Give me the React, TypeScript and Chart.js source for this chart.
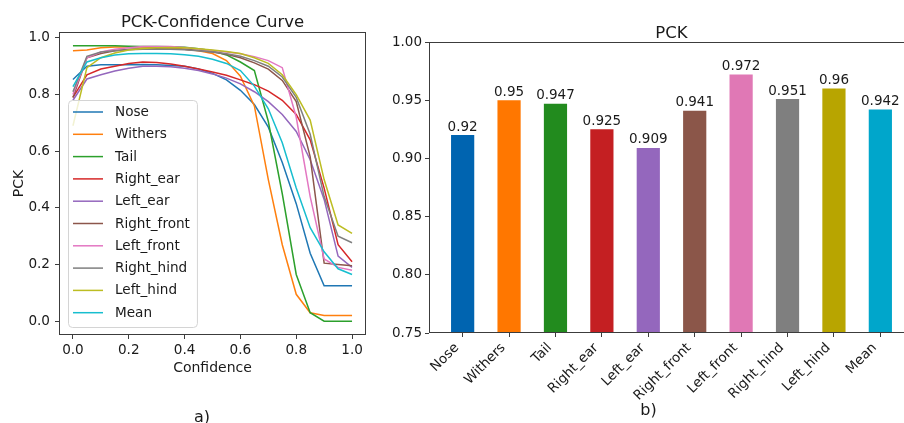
import React, { useEffect, useRef } from "react";
import { Chart, registerables } from "chart.js";

Chart.register(...registerables);

const FONT = '"DejaVu Sans", sans-serif';
const TEXT = "#1a1a1a";
const AXIS = "#3c3c3c";

// ---------- Left panel: PCK-Confidence curve ----------
const confidence = [0, 0.05, 0.1, 0.15, 0.2, 0.25, 0.3, 0.35, 0.4, 0.45, 0.5, 0.55, 0.6, 0.65, 0.7, 0.75, 0.8, 0.85, 0.9, 0.95, 1.0];

const keypoints = ["Nose", "Withers", "Tail", "Right_ear", "Left_ear", "Right_front", "Left_front", "Right_hind", "Left_hind", "Mean"];

const nosePck = [0.853, 0.9, 0.905, 0.905, 0.905, 0.906, 0.905, 0.903, 0.9, 0.89, 0.875, 0.852, 0.815, 0.765, 0.685, 0.56, 0.415, 0.24, 0.125, 0.125, 0.125];
const withersPck = [0.955, 0.957, 0.965, 0.968, 0.968, 0.968, 0.966, 0.964, 0.96, 0.955, 0.945, 0.92, 0.865, 0.76, 0.5, 0.27, 0.095, 0.03, 0.02, 0.02, 0.02];
const tailPck = [0.972, 0.972, 0.972, 0.972, 0.971, 0.97, 0.97, 0.969, 0.967, 0.962, 0.955, 0.94, 0.915, 0.885, 0.705, 0.45, 0.165, 0.03, 0.0, 0.0, 0.0];
const rightEarPck = [0.79, 0.87, 0.89, 0.9, 0.91, 0.915, 0.913, 0.908, 0.9, 0.89, 0.88, 0.868, 0.852, 0.835, 0.812, 0.78, 0.73, 0.64, 0.47, 0.27, 0.21];
const leftEarPck = [0.78, 0.855, 0.87, 0.883, 0.893, 0.9, 0.9, 0.898, 0.893, 0.885, 0.873, 0.858, 0.838, 0.81, 0.775, 0.73, 0.67, 0.57, 0.43, 0.23, 0.19];
const rightFrontPck = [0.79, 0.93, 0.945, 0.955, 0.96, 0.962, 0.962, 0.961, 0.96, 0.956, 0.95, 0.942, 0.93, 0.912, 0.89, 0.85, 0.775, 0.58, 0.205, 0.2, 0.196];
const leftFrontPck = [0.8, 0.93, 0.95, 0.96, 0.965, 0.97, 0.97, 0.97, 0.966, 0.961, 0.956, 0.95, 0.944, 0.934, 0.92, 0.895, 0.72, 0.44, 0.22, 0.19, 0.18];
const rightHindPck = [0.81, 0.935, 0.95, 0.955, 0.958, 0.96, 0.96, 0.96, 0.958, 0.955, 0.95, 0.944, 0.935, 0.92, 0.9, 0.862, 0.79, 0.66, 0.44, 0.3, 0.277];
const leftHindPck = [0.69, 0.895, 0.93, 0.947, 0.957, 0.963, 0.965, 0.966, 0.965, 0.962, 0.957, 0.952, 0.945, 0.93, 0.91, 0.87, 0.8, 0.71, 0.5, 0.34, 0.31];
const meanPck = [0.828, 0.915, 0.93, 0.94, 0.944, 0.945, 0.945, 0.944, 0.941, 0.935, 0.925, 0.91, 0.885, 0.83, 0.75, 0.63, 0.47, 0.33, 0.245, 0.185, 0.165];

const curveSeries = [nosePck, withersPck, tailPck, rightEarPck, leftEarPck, rightFrontPck, leftFrontPck, rightHindPck, leftHindPck, meanPck];
const curveColors = ["#1f77b4", "#ff7f0e", "#2ca02c", "#d62728", "#9467bd", "#8c564b", "#e377c2", "#7f7f7f", "#bcbd22", "#17becf"];
const curveXTicks = [0, 0.2, 0.4, 0.6, 0.8, 1.0];
const curveYTicks = [0, 0.2, 0.4, 0.6, 0.8, 1.0];

// ---------- Right panel: PCK bars ----------
const barCategories = ["Nose", "Withers", "Tail", "Right_ear", "Left_ear", "Right_front", "Left_front", "Right_hind", "Left_hind", "Mean"];
const barPck = [0.92, 0.95, 0.947, 0.925, 0.909, 0.941, 0.972, 0.951, 0.96, 0.942];
const barColors = ["#0064b0", "#ff7700", "#228b1e", "#c41f22", "#9467bd", "#8b5649", "#e078b5", "#7f7f7f", "#b8a500", "#00a6cb"];
const barYTicks = [0.75, 0.8, 0.85, 0.9, 0.95, 1.0];

// ---------- plugins ----------
const framePlugin = {
  id: "frame",
  afterDatasetsDraw(chart: any) {
    const { ctx, chartArea: a } = chart;
    ctx.save();
    ctx.strokeStyle = AXIS;
    ctx.lineWidth = 1;
    const l = Math.round(a.left) + 0.5;
    const t = Math.round(a.top) + 0.5;
    const r = Math.round(a.right) - 0.5;
    const b = Math.round(a.bottom) - 0.5;
    ctx.strokeRect(l, t, r - l, b - t);
    ctx.restore();
  },
};

const legendPlugin = {
  id: "mplLegend",
  afterDatasetsDraw(chart: any) {
    const { ctx, chartArea } = chart;
    const ds = chart.data.datasets;
    const fontSize = 13.6;
    const rowH = 22.3;
    const lineLen = 30;
    ctx.save();
    ctx.font = `${fontSize}px ${FONT}`;
    const textW = Math.max(...ds.map((d: any) => ctx.measureText(d.label).width));
    const boxW = 5 + lineLen + 12 + textW + 7;
    const boxH = rowH * ds.length + 4;
    const x0 = chartArea.left + 9;
    const y0 = chartArea.bottom - 8 - boxH;
    ctx.beginPath();
    ctx.roundRect(x0 + 0.5, y0 + 0.5, boxW, boxH, 4);
    ctx.fillStyle = "rgba(255,255,255,0.8)";
    ctx.fill();
    ctx.strokeStyle = "#d4d4d4";
    ctx.lineWidth = 1;
    ctx.stroke();
    ds.forEach((d: any, i: number) => {
      const y = y0 + 12 + i * rowH;
      ctx.beginPath();
      ctx.moveTo(x0 + 5, y);
      ctx.lineTo(x0 + 5 + lineLen, y);
      ctx.strokeStyle = d.borderColor;
      ctx.lineWidth = 1.5;
      ctx.stroke();
      ctx.fillStyle = TEXT;
      ctx.textAlign = "left";
      ctx.textBaseline = "middle";
      ctx.fillText(d.label, x0 + 5 + lineLen + 12, y + 0.5);
    });
    ctx.restore();
  },
};

const valueLabelPlugin = {
  id: "valueLabels",
  afterDatasetsDraw(chart: any) {
    const { ctx } = chart;
    const meta = chart.getDatasetMeta(0);
    ctx.save();
    ctx.font = `13.5px ${FONT}`;
    ctx.fillStyle = TEXT;
    ctx.textAlign = "center";
    ctx.textBaseline = "alphabetic";
    meta.data.forEach((bar: any, i: number) => {
      ctx.fillText(String(barPck[i]), bar.x, bar.y - 4.5);
    });
    ctx.restore();
  },
};

const captionPlugin = (text: string, x: number, y: number) => ({
  id: "caption",
  afterDraw(chart: any) {
    const { ctx } = chart;
    ctx.save();
    ctx.font = `16px ${FONT}`;
    ctx.fillStyle = TEXT;
    ctx.textAlign = "center";
    ctx.textBaseline = "alphabetic";
    ctx.fillText(text, x, y);
    ctx.restore();
  },
});

const tickFont = { family: FONT, size: 13.6 };

function leftConfig(): any {
  return {
    type: "line",
    data: {
      datasets: keypoints.map((name, i) => ({
        label: name,
        data: confidence.map((c, j) => ({ x: c, y: curveSeries[i][j] })),
        borderColor: curveColors[i],
        backgroundColor: curveColors[i],
        borderWidth: 1.5,
        pointRadius: 0,
        tension: 0,
        fill: false,
        order: keypoints.length - i,
      })),
    },
    options: {
      responsive: false,
      animation: false,
      devicePixelRatio: 1,
      layout: { padding: { left: 0, right: 14, top: 0, bottom: 0 } },
      plugins: {
        legend: { display: false },
        tooltip: { enabled: false },
        title: {
          display: true,
          text: "PCK-Confidence Curve",
          fullSize: false,
          color: TEXT,
          font: { family: FONT, size: 16.5, weight: "normal", lineHeight: 1 },
          padding: { top: 14.5, bottom: 1 },
        },
      },
      scales: {
        x: {
          type: "linear",
          position: "bottom",
          min: -0.05,
          max: 1.05,
          afterBuildTicks: (s: any) => {
            s.ticks = curveXTicks.map((v) => ({ value: v }));
          },
          afterFit: (s: any) => {
            s.height = 88;
          },
          ticks: {
            callback: (v: any) => Number(v).toFixed(1),
            color: TEXT,
            font: tickFont,
            padding: 3,
            maxRotation: 0,
            autoSkip: false,
          },
          grid: { drawOnChartArea: false, drawTicks: true, tickLength: 4, color: AXIS },
          border: { display: false },
          title: {
            display: true,
            text: "Confidence",
            color: TEXT,
            font: { family: FONT, size: 14 },
            padding: { top: 0, bottom: 46.6 },
          },
        },
        y: {
          type: "linear",
          min: -0.0486,
          max: 1.0209,
          afterBuildTicks: (s: any) => {
            s.ticks = curveYTicks.map((v) => ({ value: v }));
          },
          afterFit: (s: any) => {
            s.width = 59;
          },
          ticks: {
            callback: (v: any) => Number(v).toFixed(1),
            color: TEXT,
            font: tickFont,
            padding: 5,
            autoSkip: false,
          },
          grid: { drawOnChartArea: false, drawTicks: true, tickLength: 4, color: AXIS },
          border: { display: false },
          title: {
            display: true,
            text: "PCK",
            color: TEXT,
            font: { family: FONT, size: 14 },
            padding: { top: 10.6, bottom: 0 },
          },
        },
      },
    },
    plugins: [framePlugin, legendPlugin, captionPlugin("a)", 202, 422)],
  };
}

function rightConfig(): any {
  return {
    type: "bar",
    data: {
      datasets: [
        {
          label: "PCK",
          data: barCategories.map((_, i) => ({ x: i, y: barPck[i] })),
          backgroundColor: barColors,
          borderWidth: 0,
          barPercentage: 0.5,
          categoryPercentage: 1,
        },
      ],
    },
    options: {
      responsive: false,
      animation: false,
      devicePixelRatio: 1,
      layout: { padding: { left: 0, right: 26, top: 0, bottom: 0 } },
      plugins: {
        legend: { display: false },
        tooltip: { enabled: false },
        title: {
          display: true,
          text: "PCK",
          fullSize: false,
          color: TEXT,
          font: { family: FONT, size: 16.5, weight: "normal", lineHeight: 1 },
          padding: { top: 25.5, bottom: 0 },
        },
      },
      scales: {
        x: {
          type: "linear",
          position: "bottom",
          min: -0.725,
          max: 9.725,
          offset: false,
          afterBuildTicks: (s: any) => {
            s.ticks = barCategories.map((_, i) => ({ value: i }));
          },
          afterFit: (s: any) => {
            s.height = 90;
          },
          ticks: {
            callback: (v: any) => barCategories[Math.round(Number(v))],
            color: TEXT,
            font: { family: FONT, size: 13.5 },
            minRotation: 45,
            maxRotation: 45,
            autoSkip: false,
            padding: 3,
            labelOffset: -5.7,
          },
          grid: { offset: false, drawOnChartArea: false, drawTicks: true, tickLength: 4, color: AXIS },
          border: { display: false },
        },
        y: {
          type: "linear",
          min: 0.75,
          max: 1.0,
          afterBuildTicks: (s: any) => {
            s.ticks = barYTicks.map((v) => ({ value: v }));
          },
          afterFit: (s: any) => {
            s.width = 49;
          },
          ticks: {
            callback: (v: any) => Number(v).toFixed(2),
            color: TEXT,
            font: { family: FONT, size: 13.5 },
            padding: 3,
            autoSkip: false,
          },
          grid: { drawOnChartArea: false, drawTicks: true, tickLength: 4, color: AXIS },
          border: { display: false },
        },
      },
    },
    plugins: [framePlugin, valueLabelPlugin, captionPlugin("b)", 268.5, 415)],
  };
}

export default function App() {
  const leftRef = useRef<HTMLCanvasElement>(null);
  const rightRef = useRef<HTMLCanvasElement>(null);

  useEffect(() => {
    const left = new Chart(leftRef.current as HTMLCanvasElement, leftConfig());
    const right = new Chart(rightRef.current as HTMLCanvasElement, rightConfig());
    return () => {
      left.destroy();
      right.destroy();
    };
  }, []);

  return (
    <div
      style={{
        position: "absolute",
        left: 0,
        top: 0,
        width: 904,
        height: 423,
        overflow: "hidden",
        background: "#ffffff",
      }}
    >
      <canvas
        ref={leftRef}
        width={380}
        height={423}
        style={{ position: "absolute", left: 0, top: 0, width: 380, height: 423 }}
      />
      <canvas
        ref={rightRef}
        width={560}
        height={423}
        style={{ position: "absolute", left: 380, top: 0, width: 560, height: 423 }}
      />
    </div>
  );
}
